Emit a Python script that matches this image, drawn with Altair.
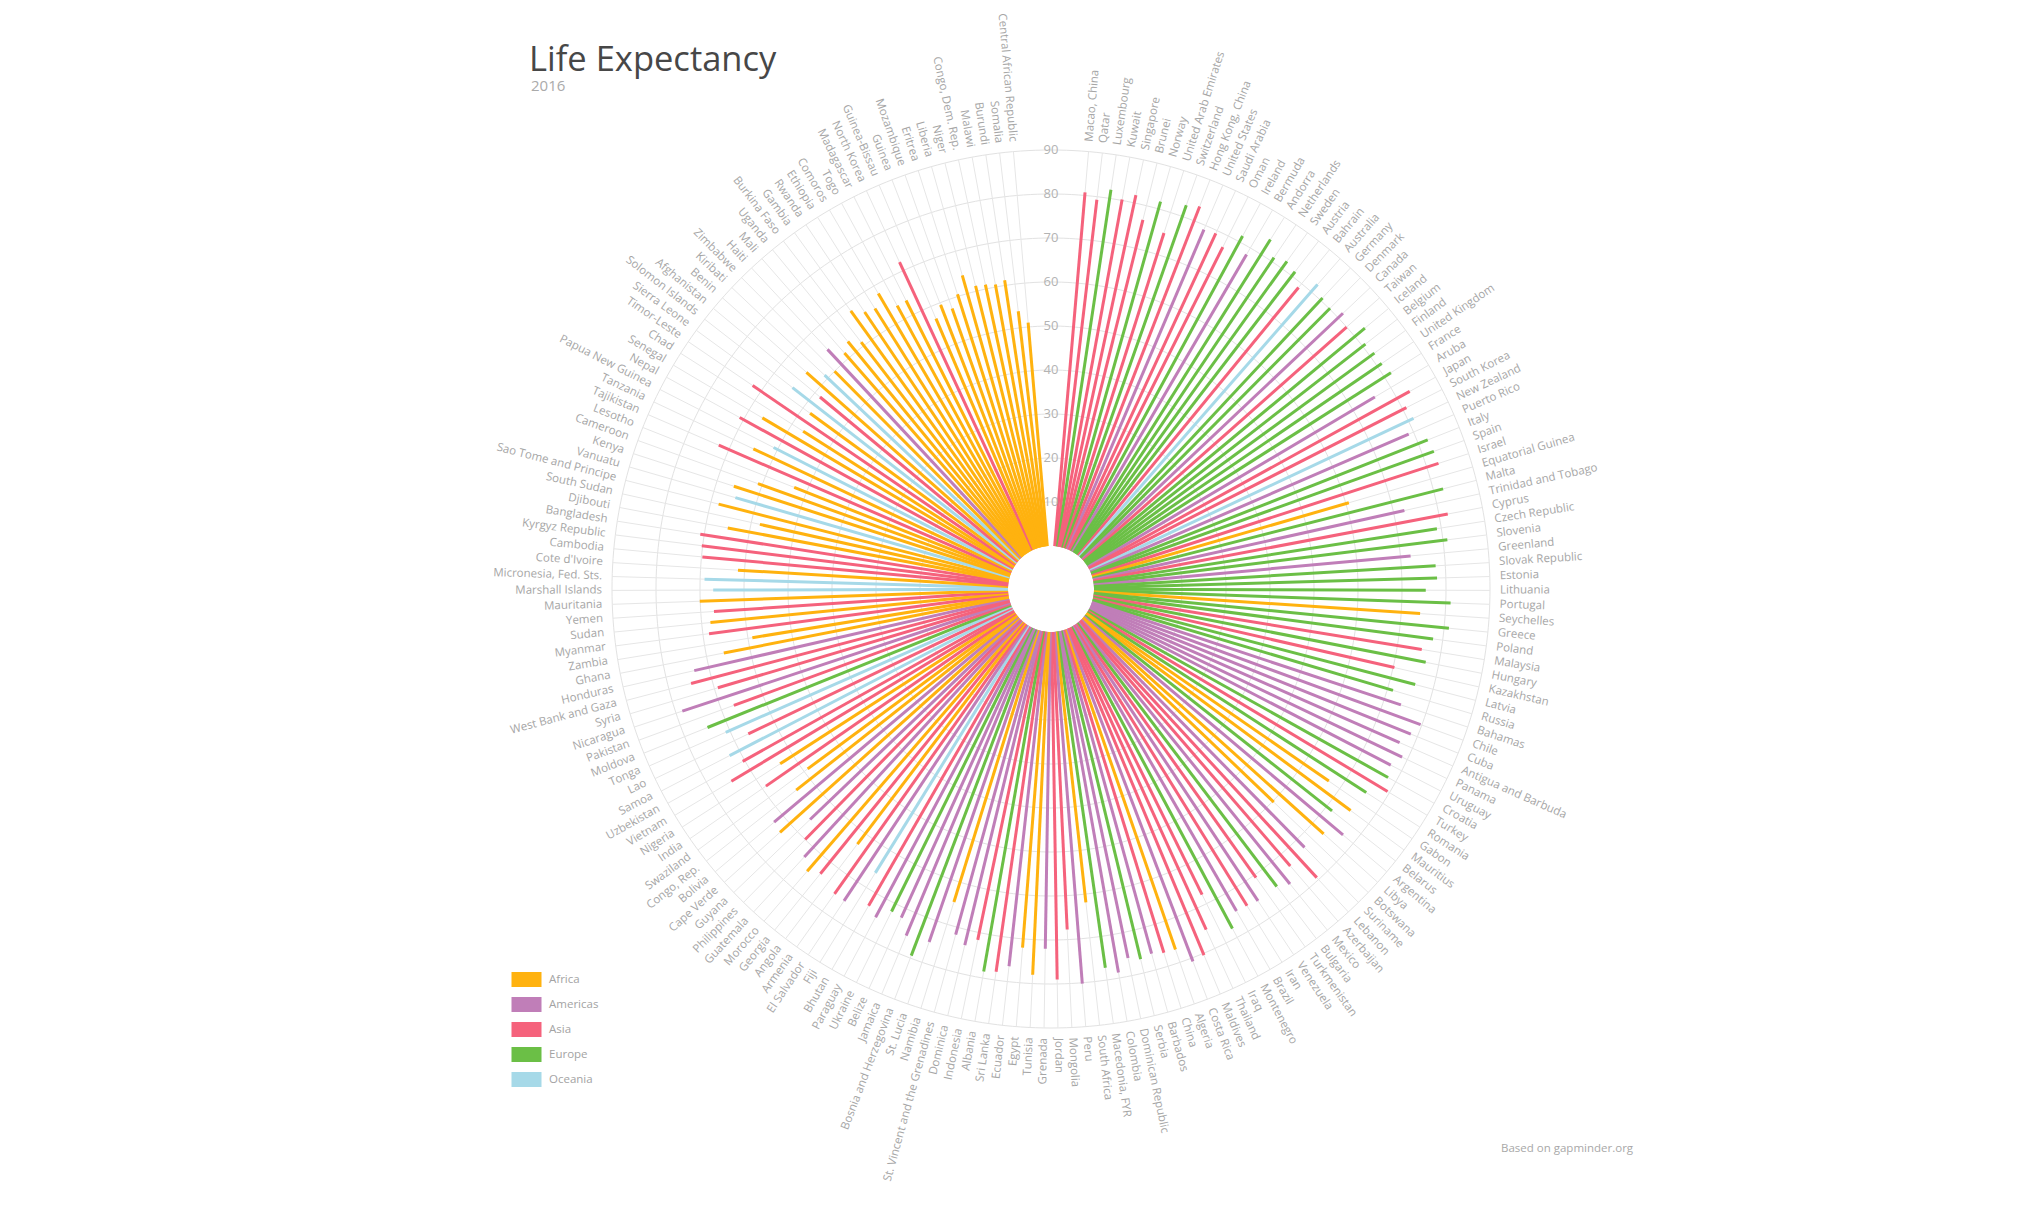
import altair as alt
import pandas as pd

# Countries ordered by income (richest first), clockwise from the top
countries = [
    "Macao, China", "Qatar", "Luxembourg", "Kuwait", "Singapore", "Brunei", "Norway", "United Arab Emirates", "Switzerland", "Hong Kong, China",
    "United States", "Saudi Arabia", "Oman", "Ireland", "Bermuda", "Andorra", "Netherlands", "Sweden", "Austria", "Bahrain",
    "Australia", "Germany", "Denmark", "Canada", "Taiwan", "Iceland", "Belgium", "Finland", "United Kingdom", "France",
    "Aruba", "Japan", "South Korea", "New Zealand", "Puerto Rico", "Italy", "Spain", "Israel", "Equatorial Guinea", "Malta",
    "Trinidad and Tobago", "Cyprus", "Czech Republic", "Slovenia", "Greenland", "Slovak Republic", "Estonia", "Lithuania", "Portugal", "Seychelles",
    "Greece", "Poland", "Malaysia", "Hungary", "Kazakhstan", "Latvia", "Russia", "Bahamas", "Chile", "Cuba",
    "Antigua and Barbuda", "Panama", "Uruguay", "Croatia", "Turkey", "Romania", "Gabon", "Mauritius", "Belarus", "Argentina",
    "Libya", "Botswana", "Suriname", "Lebanon", "Azerbaijan", "Mexico", "Bulgaria", "Turkmenistan", "Venezuela", "Iran",
    "Brazil", "Montenegro", "Iraq", "Thailand", "Maldives", "Costa Rica", "Algeria", "China", "Barbados", "Serbia",
    "Dominican Republic", "Colombia", "Macedonia, FYR", "South Africa", "Peru", "Mongolia", "Jordan", "Grenada", "Tunisia", "Egypt",
    "Ecuador", "Sri Lanka", "Albania", "Indonesia", "Dominica", "St. Vincent and the Grenadines", "Namibia", "St. Lucia", "Bosnia and Herzegovina", "Jamaica",
    "Belize", "Ukraine", "Paraguay", "Bhutan", "Fiji", "El Salvador", "Armenia", "Angola", "Georgia", "Morocco",
    "Guatemala", "Philippines", "Guyana", "Cape Verde", "Bolivia", "Congo, Rep.", "Swaziland", "India", "Nigeria", "Vietnam",
    "Uzbekistan", "Samoa", "Lao", "Tonga", "Moldova", "Pakistan", "Nicaragua", "Syria", "West Bank and Gaza", "Honduras",
    "Ghana", "Zambia", "Myanmar", "Sudan", "Yemen", "Mauritania", "Marshall Islands", "Micronesia, Fed. Sts.", "Cote d'Ivoire", "Cambodia",
    "Kyrgyz Republic", "Bangladesh", "Djibouti", "South Sudan", "Sao Tome and Principe", "Vanuatu", "Kenya", "Cameroon", "Lesotho", "Tajikistan",
    "Tanzania", "Papua New Guinea", "Nepal", "Senegal", "Chad", "Timor-Leste", "Sierra Leone", "Solomon Islands", "Afghanistan", "Benin",
    "Kiribati", "Zimbabwe", "Haiti", "Mali", "Uganda", "Burkina Faso", "Gambia", "Rwanda", "Ethiopia", "Comoros",
    "Togo", "Madagascar", "North Korea", "Guinea-Bissau", "Guinea", "Mozambique", "Eritrea", "Liberia", "Niger", "Congo, Dem. Rep.",
    "Malawi", "Burundi", "Somalia", "Central African Republic",
]

regions = [
    "Asia", "Asia", "Europe", "Asia", "Asia", "Asia", "Europe", "Asia", "Europe", "Asia",
    "Americas", "Asia", "Asia", "Europe", "Americas", "Europe", "Europe", "Europe", "Europe", "Asia",
    "Oceania", "Europe", "Europe", "Americas", "Asia", "Europe", "Europe", "Europe", "Europe", "Europe",
    "Americas", "Asia", "Asia", "Oceania", "Americas", "Europe", "Europe", "Asia", "Africa", "Europe",
    "Americas", "Asia", "Europe", "Europe", "Americas", "Europe", "Europe", "Europe", "Europe", "Africa",
    "Europe", "Europe", "Asia", "Europe", "Asia", "Europe", "Europe", "Americas", "Americas", "Americas",
    "Americas", "Americas", "Americas", "Europe", "Asia", "Europe", "Africa", "Africa", "Europe", "Americas",
    "Africa", "Africa", "Americas", "Asia", "Asia", "Americas", "Europe", "Asia", "Americas", "Asia",
    "Americas", "Europe", "Asia", "Asia", "Asia", "Americas", "Africa", "Asia", "Americas", "Europe",
    "Americas", "Americas", "Europe", "Africa", "Americas", "Asia", "Asia", "Americas", "Africa", "Africa",
    "Americas", "Asia", "Europe", "Asia", "Americas", "Americas", "Africa", "Americas", "Europe", "Americas",
    "Americas", "Europe", "Americas", "Asia", "Oceania", "Americas", "Asia", "Africa", "Asia", "Africa",
    "Americas", "Asia", "Americas", "Africa", "Americas", "Africa", "Africa", "Asia", "Africa", "Asia",
    "Asia", "Oceania", "Asia", "Oceania", "Europe", "Asia", "Americas", "Asia", "Asia", "Americas",
    "Africa", "Africa", "Asia", "Africa", "Asia", "Africa", "Oceania", "Oceania", "Africa", "Asia",
    "Asia", "Asia", "Africa", "Africa", "Africa", "Oceania", "Africa", "Africa", "Africa", "Asia",
    "Africa", "Oceania", "Asia", "Africa", "Africa", "Asia", "Africa", "Oceania", "Asia", "Africa",
    "Oceania", "Africa", "Americas", "Africa", "Africa", "Africa", "Africa", "Africa", "Africa", "Africa",
    "Africa", "Africa", "Asia", "Africa", "Africa", "Africa", "Africa", "Africa", "Africa", "Africa",
    "Africa", "Africa", "Africa", "Africa",
]

# Life expectancy at birth, 2016 (years)
life_expectancy = [
    80.7, 79.3, 82.0, 80.2, 81.8, 76.7, 81.7, 75.1, 82.7, 83.5,
    79.0, 79.3, 77.2, 81.5, 78.3, 84.0, 81.0, 82.0, 81.2, 78.9,
    82.2, 80.7, 80.2, 81.5, 80.0, 83.0, 80.8, 81.2, 81.2, 81.8,
    75.8, 83.3, 80.9, 81.3, 78.8, 82.3, 82.7, 82.8, 60.7, 82.2,
    72.5, 82.0, 79.0, 81.0, 72.3, 77.8, 78.0, 75.4, 81.1, 74.3,
    81.1, 77.8, 75.6, 77.0, 70.3, 75.8, 71.3, 74.0, 79.7, 78.4,
    76.8, 78.7, 77.2, 78.0, 79.5, 75.5, 67.0, 74.9, 71.6, 77.0,
    73.5, 60.3, 72.5, 79.4, 73.4, 76.5, 75.1, 70.7, 75.3, 74.9,
    74.7, 77.7, 67.7, 75.3, 80.4, 80.8, 76.9, 76.8, 76.2, 76.8,
    75.9, 78.7, 77.2, 61.9, 80.2, 67.7, 79.0, 72.0, 78.0, 72.0,
    76.5, 78.1, 78.5, 71.7, 73.5, 71.7, 64.7, 75.1, 79.4, 75.6,
    72.3, 72.0, 74.8, 73.3, 66.1, 75.3, 75.2, 63.0, 73.5, 75.0,
    73.0, 70.0, 66.0, 73.0, 72.5, 64.0, 59.0, 69.0, 63.5, 75.0,
    70.5, 72.5, 66.5, 71.0, 74.4, 67.0, 78.5, 69.2, 74.8, 73.4,
    66.0, 59.0, 68.6, 68.0, 67.0, 70.1, 67.0, 69.0, 61.5, 69.8,
    70.2, 70.9, 65.0, 58.0, 68.2, 64.9, 66.0, 61.0, 53.0, 72.5,
    65.0, 61.0, 71.0, 66.5, 57.0, 72.3, 58.0, 64.7, 58.5, 64.5,
    61.0, 60.0, 64.7, 61.5, 63.0, 61.0, 68.1, 66.1, 65.5, 68.0,
    63.5, 63.6, 72.1, 57.0, 59.5, 57.8, 60.5, 64.3, 61.2, 61.0,
    60.6, 61.2, 53.8, 51.0,
]

region_names = ["Africa", "Americas", "Asia", "Europe", "Oceania"]
region_colors = ["#ffb20f", "#c07eb8", "#f5627c", "#6bbf46", "#a6d9e8"]
ring_values = [10, 20, 30, 40, 50, 60, 70, 80, 90]

# ---- geometry -------------------------------------------------------------
CANVAS_W, CANVAS_H = 2040, 1210
CX, CY = 1051, 589            # pixel position of the centre of the radar
PX_PER_YEAR = 4.4             # radial pixels per year
HOLE = 43 / PX_PER_YEAR       # empty disc in the middle (in years)
LABEL_R = 449 / PX_PER_YEAR   # where the country names start
START_DEG, SPAN_DEG = 4.0, 352.0
N = len(countries)
FONT = "Open Sans"

x_scale = alt.Scale(domain=[-CX / PX_PER_YEAR, (CANVAS_W - CX) / PX_PER_YEAR], nice=False, zero=False)
y_scale = alt.Scale(domain=[-(CANVAS_H - CY) / PX_PER_YEAR, CY / PX_PER_YEAR], nice=False, zero=False)


def X(field):
    return alt.X(field, type="quantitative", scale=x_scale, axis=None)


def Y(field):
    return alt.Y(field, type="quantitative", scale=y_scale, axis=None)


df = pd.DataFrame({"country": countries, "region": regions, "life": life_expectancy})
df["idx"] = range(N)

base = (
    alt.Chart(df)
    .transform_calculate(deg=f"{START_DEG} + (datum.idx + 0.5) * {SPAN_DEG} / {N}")
    .transform_calculate(rad="datum.deg * PI / 180")
    .transform_calculate(
        x0=f"{HOLE} * sin(datum.rad)",
        y0=f"{HOLE} * cos(datum.rad)",
        x1=f"({HOLE} + datum.life) * sin(datum.rad)",
        y1=f"({HOLE} + datum.life) * cos(datum.rad)",
        gx=f"({HOLE} + 90) * sin(datum.rad)",
        gy=f"({HOLE} + 90) * cos(datum.rad)",
        lx=f"{LABEL_R} * sin(datum.rad)",
        ly=f"{LABEL_R} * cos(datum.rad)",
        tangle="((datum.deg < 180 ? datum.deg - 90 : datum.deg - 270) + 360) % 360",
    )
)

# concentric grid circles
rings = (
    alt.Chart(pd.DataFrame({"ring": ring_values}))
    .transform_calculate(a="sequence(0, 361, 1)")
    .transform_flatten(["a"])
    .transform_calculate(
        px=f"({HOLE} + datum.ring) * sin(datum.a * PI / 180)",
        py=f"({HOLE} + datum.ring) * cos(datum.a * PI / 180)",
    )
    .mark_line(color="#e2e2e2", strokeWidth=1)
    .encode(x=X("px"), y=Y("py"), detail="ring:N", order="a:Q")
)

# one spoke per country
spokes = base.mark_rule(color="#e6e6e6", strokeWidth=1).encode(
    x=X("x0"), y=Y("y0"), x2="gx:Q", y2="gy:Q"
)

bars = base.mark_rule(strokeWidth=3).encode(
    x=X("x0"),
    y=Y("y0"),
    x2="x1:Q",
    y2="y1:Q",
    color=alt.Color(
        "region:N",
        scale=alt.Scale(domain=region_names, range=region_colors),
        legend=alt.Legend(
            orient="none",
            legendX=504,
            legendY=972,
            title=None,
            padding=0,
            symbolType="M-1,0H1",
            symbolSize=900,
            symbolStrokeWidth=15,
            symbolOpacity=1,
            clipHeight=15,
            rowPadding=10,
            labelOffset=0,
            labelFont=FONT,
            labelFontSize=11.5,
            labelColor="#a3a3a3",
        ),
    ),
    tooltip=["country:N", "region:N", "life:Q"],
)

# value labels along the vertical axis
ticks = (
    alt.Chart(pd.DataFrame({"ring": ring_values}))
    .transform_calculate(px="0", py=f"{HOLE} + datum.ring")
    .mark_text(align="center", baseline="middle", fontSize=13, font=FONT, color="#b3b3b3")
    .encode(x=X("px"), y=Y("py"), text="ring:Q")
)

label_style = dict(baseline="middle", fontSize=11.5, font=FONT, color="#a6a6a6")
labels_right = base.transform_filter("datum.deg < 180").mark_text(align="left", **label_style).encode(
    x=X("lx"), y=Y("ly"), angle=alt.Angle("tangle:Q", scale=None), text="country:N"
)
labels_left = base.transform_filter("datum.deg >= 180").mark_text(align="right", **label_style).encode(
    x=X("lx"), y=Y("ly"), angle=alt.Angle("tangle:Q", scale=None), text="country:N"
)

title = alt.Chart(pd.DataFrame({"t": ["Life Expectancy"]})).mark_text(
    align="left", baseline="alphabetic", fontSize=34.5, font=FONT, color="#474747"
).encode(x=alt.value(529), y=alt.value(71), text="t:N")

subtitle = alt.Chart(pd.DataFrame({"t": ["2016"]})).mark_text(
    align="left", baseline="alphabetic", fontSize=15, font=FONT, color="#aaaaaa"
).encode(x=alt.value(531), y=alt.value(91), text="t:N")

source = alt.Chart(pd.DataFrame({"t": ["Based on gapminder.org"]})).mark_text(
    align="left", baseline="alphabetic", fontSize=11.5, font=FONT, color="#a8a8a8"
).encode(x=alt.value(1501), y=alt.value(1151.5), text="t:N")

chart = (
    alt.layer(rings, spokes, bars, ticks, labels_right, labels_left, title, subtitle, source)
    .properties(
        width=CANVAS_W,
        height=CANVAS_H,
        padding=0,
        autosize=alt.AutoSizeParams(type="none"),
        background="white",
    )
    .configure_view(strokeWidth=0)
)

chart.save("out.html", embed_options={"renderer": "svg", "actions": False})
